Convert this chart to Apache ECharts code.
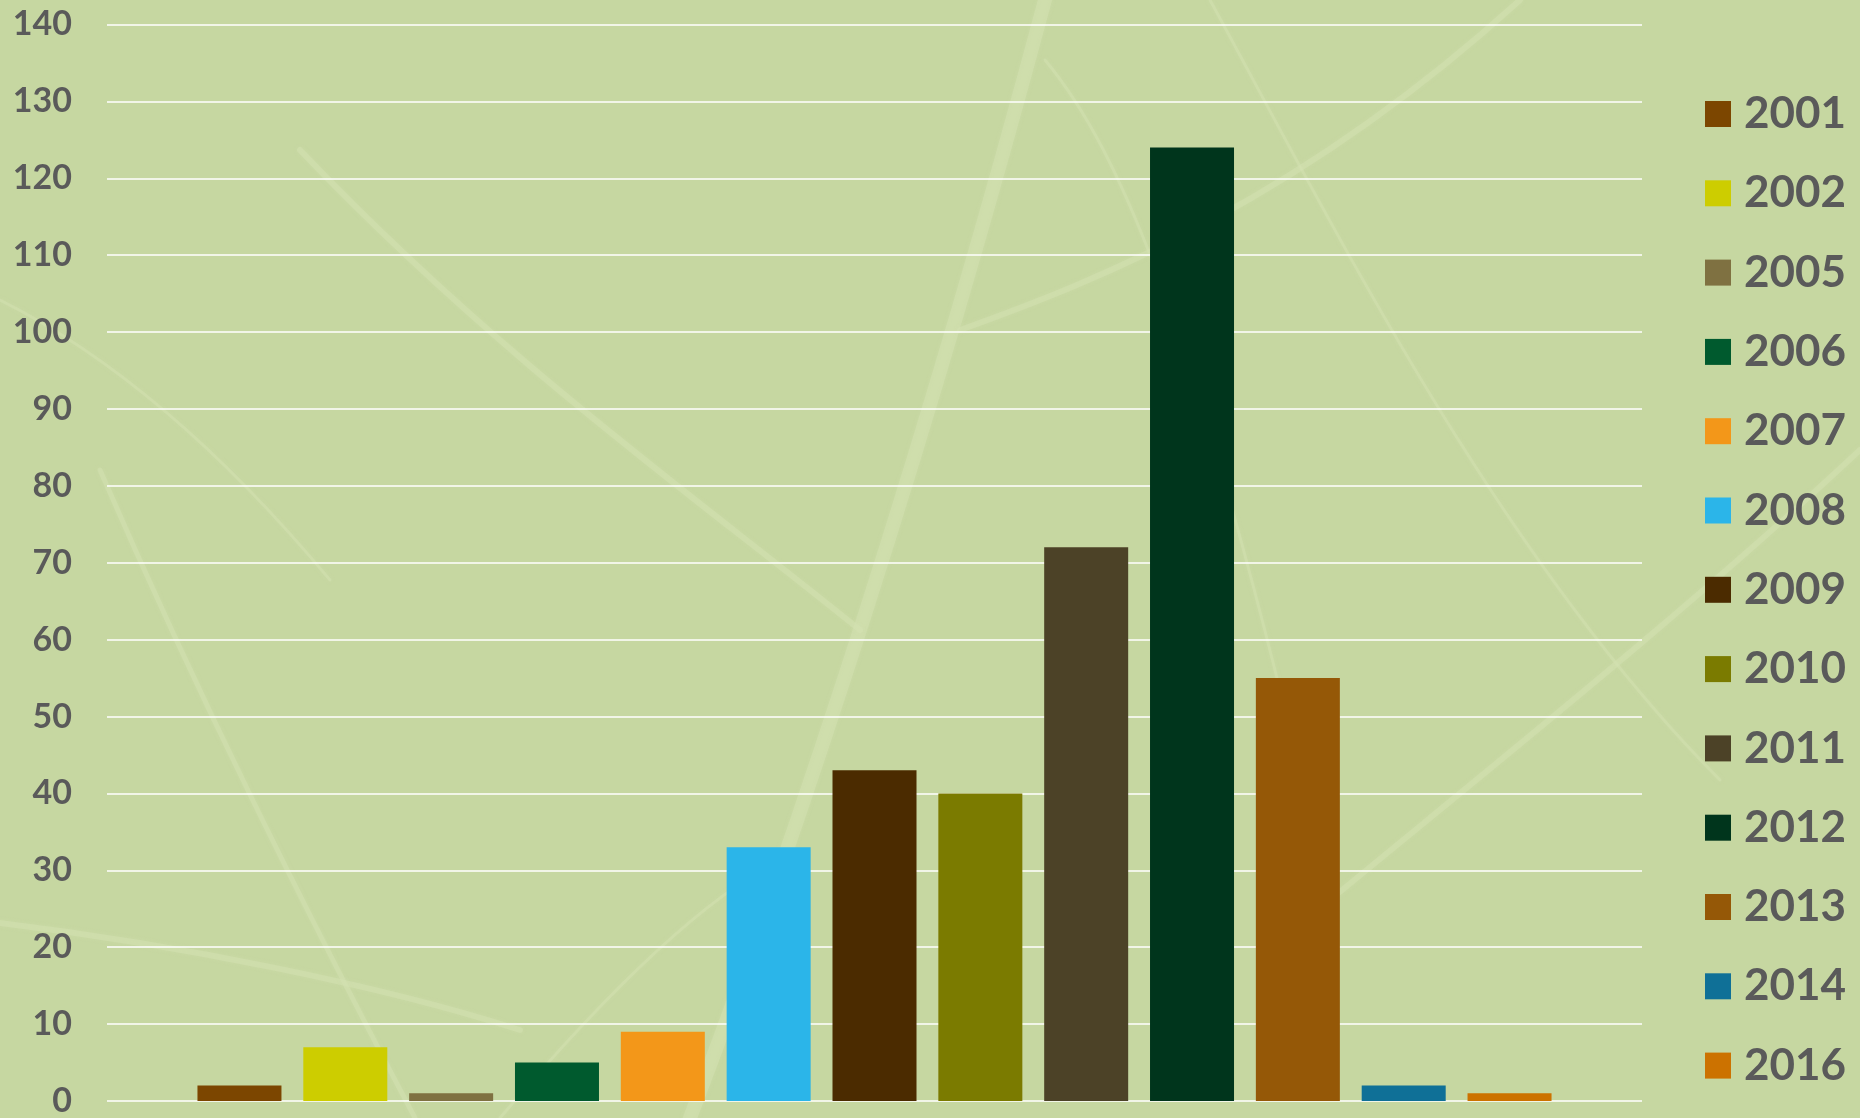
<!DOCTYPE html>
<html>
<head>
<meta charset="utf-8">
<title>Bars by year</title>
<script src="https://cdn.jsdelivr.net/npm/echarts@6/dist/echarts.min.js"></script>
<style>
  html, body { margin: 0; padding: 0; background: #c6d7a1; }
  #chart { width: 1860px; height: 1118px; }
</style>
</head>
<body>
<div id="chart"></div>
<script>
// Years shown in the legend, one series per year
const years = ['2001', '2002', '2005', '2006', '2007', '2008', '2009', '2010', '2011', '2012', '2013', '2014', '2016'];
// Count for each year
const counts = [2, 7, 1, 5, 9, 33, 43, 40, 72, 124, 55, 2, 1];
// Fill colour for each year
const colors = ['#7c4600', '#cdcd00', '#7f7141', '#005a2e', '#f39719', '#2bb5e9', '#4b2b00', '#7b7b00', '#4c4227', '#00351c', '#955807', '#0f7097', '#cc7200'];
// Value axis ticks
const yTicks = [0, 10, 20, 30, 40, 50, 60, 70, 80, 90, 100, 110, 120, 130, 140];

const labelFont = 'Lato, "Open Sans", sans-serif';
const textGrey = '#5a5a5a';

const chart = echarts.init(document.getElementById('chart'), null, { renderer: 'canvas' });

// Faint, softened light veins laid over the green backdrop
const veinColor = 'rgba(212, 226, 178, 0.5)';
function vein(x1, y1, cx1, cy1, cx2, cy2, x2, y2, width) {
  return {
    type: 'bezierCurve',
    z: -100,
    silent: true,
    shape: { x1: x1, y1: y1, cpx1: cx1, cpy1: cy1, cpx2: cx2, cpy2: cy2, x2: x2, y2: y2 },
    style: {
      stroke: veinColor, lineWidth: width, fill: null, lineCap: 'round',
      shadowBlur: 4, shadowColor: 'rgba(212, 226, 178, 0.6)'
    }
  };
}
const veins = [
  // midrib
  vein(690, 1118, 800, 830, 930, 430, 1045, 0, 14),
  // side veins
  vein(860, 630, 700, 500, 500, 360, 300, 150, 6),
  vein(960, 330, 1100, 280, 1300, 200, 1520, 0, 6),
  vein(0, 923, 180, 945, 380, 985, 520, 1030, 6),
  vein(1330, 900, 1500, 760, 1700, 600, 1860, 450, 6),
  vein(100, 470, 200, 700, 300, 900, 415, 1118, 5),
  vein(0, 300, 120, 360, 230, 460, 330, 580, 3),
  vein(1210, 0, 1330, 220, 1500, 560, 1720, 780, 3),
  vein(1045, 60, 1120, 150, 1200, 330, 1330, 900, 3),
  vein(500, 1118, 600, 1000, 700, 900, 780, 860, 3)
];

const series = years.map((y, i) => ({
  name: y,
  type: 'bar',
  barWidth: 84,
  barGap: '26%',
  itemStyle: { color: colors[i] },
  data: [counts[i]]
}));

chart.setOption({
  backgroundColor: '#c6d7a1',
  animation: false,
  graphic: veins,
  grid: { left: 107, right: 218, top: 24.5, bottom: 15, containLabel: false },
  legend: {
    orient: 'vertical',
    left: 1700,
    top: 87,
    icon: 'rect',
    itemWidth: 26,
    itemHeight: 26,
    itemGap: 35.3,
    textStyle: {
      fontFamily: labelFont,
      fontWeight: 'bold',
      fontSize: 44,
      lineHeight: 44,
      color: textGrey,
      padding: [0, 0, 0, 8]
    },
    data: years
  },
  xAxis: {
    type: 'category',
    data: [''],
    axisLine: { show: false },
    axisTick: { show: false },
    axisLabel: { show: false }
  },
  yAxis: {
    type: 'value',
    min: yTicks[0],
    max: yTicks[yTicks.length - 1],
    interval: 10,
    axisLine: { show: false },
    axisTick: { show: false },
    axisLabel: {
      margin: 35,
      fontFamily: labelFont,
      fontWeight: 'bold',
      fontSize: 34,
      color: textGrey
    },
    splitLine: { lineStyle: { color: '#ffffff', width: 1.6 } }
  },
  series: series
});
</script>
</body>
</html>
